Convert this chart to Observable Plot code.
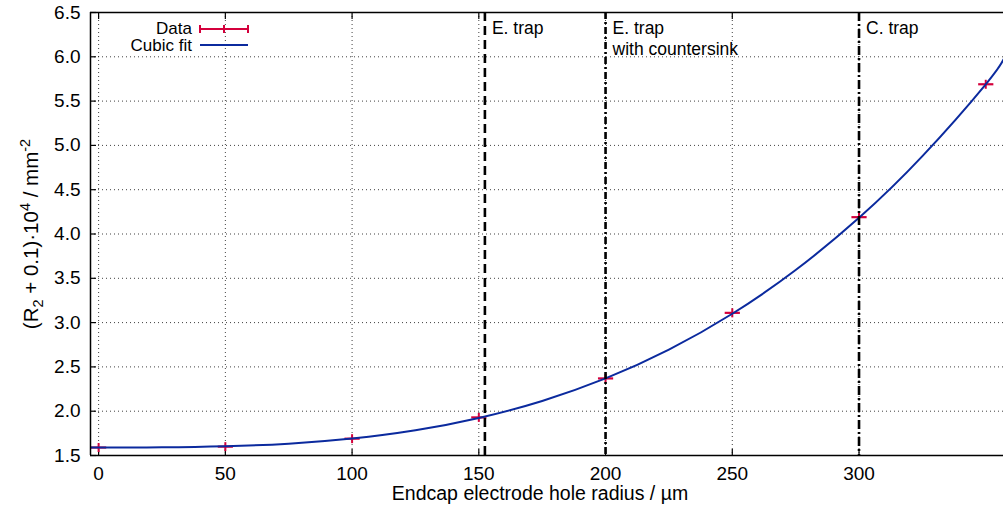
<!DOCTYPE html>
<html><head><meta charset="utf-8">
<script src="https://cdn.jsdelivr.net/npm/d3@7"></script>
<script src="https://cdn.jsdelivr.net/npm/@observablehq/plot@0.6"></script>
<style>
body{margin:0;background:#fff;}
#wrap{position:relative;width:1003px;height:514px;font-family:"Liberation Sans",Arial,sans-serif;}
#legend{position:absolute;left:0;top:0;pointer-events:none;}
</style></head><body><div id="wrap"></div>
<script>
// ---- data ----
const radius = [0, 50, 100, 150, 200, 250, 300, 350];
const value = [1.59, 1.60, 1.69, 1.93, 2.37, 3.11, 4.19, 5.69];
const radiusErr = [3, 3, 3, 3, 3, 3, 3, 3];
const fitRadius = [-3.2, 0, 25, 50, 75, 100, 125, 150, 175, 200, 225, 250, 275, 300, 325, 350, 357];
const fitValue = [1.59, 1.590, 1.592, 1.604, 1.634, 1.692, 1.785, 1.924, 2.116, 2.370, 2.695, 3.100, 3.593, 4.183, 4.879, 5.690, 5.97];
const trapRadius = [152.4, 200, 300];
const trapLabel = ["E. trap", "E. trap\nwith countersink", "C. trap"];
const xTicks = [0, 50, 100, 150, 200, 250, 300];
const yTicks = [1.5, 2.0, 2.5, 3.0, 3.5, 4.0, 4.5, 5.0, 5.5, 6.0, 6.5];
const xDomain = [-3.2, 357];
const yDomain = [1.5, 6.5];
const legendLabels = ["Data", "Cubic fit"];
const xLabel = "Endcap electrode hole radius / \u00b5m";

const points = radius.map((r, i) => ({r, v: value[i], e: radiusErr[i]}));
const fit = fitRadius.map((r, i) => ({r, v: fitValue[i]}));
const traps = trapRadius.map((r, i) => ({r, label: trapLabel[i]}));

const red = "#d4003c";
const blue = "#0b2a9e";
const vtick = {draw(ctx, size) { const r = Math.sqrt(size / Math.PI); ctx.moveTo(0, -r); ctx.lineTo(0, r); }};
const gridStyle = {stroke: "#000", strokeOpacity: 0.75, strokeDasharray: "1,3", strokeWidth: 1};

const chart = Plot.plot({
  width: 1003, height: 514,
  marginLeft: 90, marginRight: 0, marginTop: 12, marginBottom: 59,
  style: {fontFamily: '"Liberation Sans", Arial, sans-serif', fontSize: "19px", background: "white", color: "#000", overflow: "visible"},
  x: {domain: xDomain},
  y: {domain: yDomain},
  marks: [
    Plot.gridX(xTicks, gridStyle),
    Plot.gridY(yTicks, gridStyle),
    Plot.axisX(xTicks, {anchor: "bottom", tickSize: 0, tickPadding: 11, label: null, fontSize: 19}),
    Plot.axisX(xTicks, {anchor: "bottom", tickSize: 6, fill: "none", dy: -6, label: null, strokeWidth: 1.2}),
    Plot.axisX(xTicks, {anchor: "top", tickSize: 6, fill: "none", dy: 6, label: null, strokeWidth: 1.2}),
    Plot.axisY(yTicks, {anchor: "left", tickSize: 0, tickPadding: 10, label: null, fontSize: 19, tickFormat: d3.format(".1f")}),
    Plot.axisY(yTicks, {anchor: "left", tickSize: 6, fill: "none", dx: 6, label: null, strokeWidth: 1.2}),
    Plot.link(points, {x1: d => d.r - d.e, x2: d => d.r + d.e, y1: "v", y2: "v", stroke: red, strokeWidth: 2.2}),
    Plot.dot(points, {x: "r", y: "v", symbol: vtick, r: 4.5, stroke: red, strokeWidth: 2}),
    Plot.line(fit, {x: "r", y: "v", stroke: blue, strokeWidth: 2, curve: "natural", clip: true}),
    Plot.ruleX(traps.slice(0, 1), {x: "r", stroke: "#000", strokeWidth: 2.6, strokeDasharray: "9,5"}),
    Plot.ruleX(traps.slice(1, 2), {x: "r", stroke: "#000", strokeWidth: 2.6, strokeDasharray: "7,3,2,3"}),
    Plot.ruleX(traps.slice(2, 3), {x: "r", stroke: "#000", strokeWidth: 2.6, strokeDasharray: "9,3,2,3"}),
    Plot.text(traps, {x: "r", text: "label", frameAnchor: "top", textAnchor: "start", lineAnchor: "top", dx: 7, dy: 7, fontSize: 17.5, lineHeight: 1.2, fill: "#000"}),
    Plot.ruleX([xDomain[0]], {stroke: "#000", strokeWidth: 1.5}),
    Plot.ruleY(yDomain, {stroke: "#000", strokeWidth: 1.5})
  ]
});
document.getElementById("wrap").appendChild(chart);

const svg = d3.select(chart);
// y axis label with sub/superscripts
const yl = svg.append("text")
  .attr("transform", "translate(38,234) rotate(-90)")
  .attr("text-anchor", "middle")
  .attr("font-size", 20.5).attr("fill", "#000");
yl.append("tspan").text("(R");
yl.append("tspan").attr("font-size", 14.5).attr("dy", 5).text("2");
yl.append("tspan").attr("dy", -5).text(" + 0.1)\u00b710");
yl.append("tspan").attr("font-size", 14.5).attr("dy", -8).text("4");
yl.append("tspan").attr("dy", 8).text(" / mm");
yl.append("tspan").attr("font-size", 14.5).attr("dy", -8).text("-2");
// x axis label
svg.append("text").attr("x", 540).attr("y", 500).attr("text-anchor", "middle")
  .attr("font-size", 19.5).attr("fill", "#000").text(xLabel);

// legend overlay
const lg = d3.select("#wrap").append("svg").attr("id", "legend").attr("width", 1003).attr("height", 514)
  .style("font-family", '"Liberation Sans", Arial, sans-serif');
lg.append("text").attr("x", 192).attr("y", 34).attr("text-anchor", "end").attr("font-size", 17).text(legendLabels[0]);
lg.append("line").attr("x1", 200).attr("x2", 248).attr("y1", 29).attr("y2", 29).attr("stroke", red).attr("stroke-width", 2);
[200, 224, 248].forEach(x => lg.append("line").attr("x1", x).attr("x2", x).attr("y1", 25).attr("y2", 33).attr("stroke", red).attr("stroke-width", 2));
lg.append("text").attr("x", 192).attr("y", 51).attr("text-anchor", "end").attr("font-size", 17).text(legendLabels[1]);
lg.append("line").attr("x1", 200).attr("x2", 248).attr("y1", 45).attr("y2", 45).attr("stroke", blue).attr("stroke-width", 2);
</script></body></html>
